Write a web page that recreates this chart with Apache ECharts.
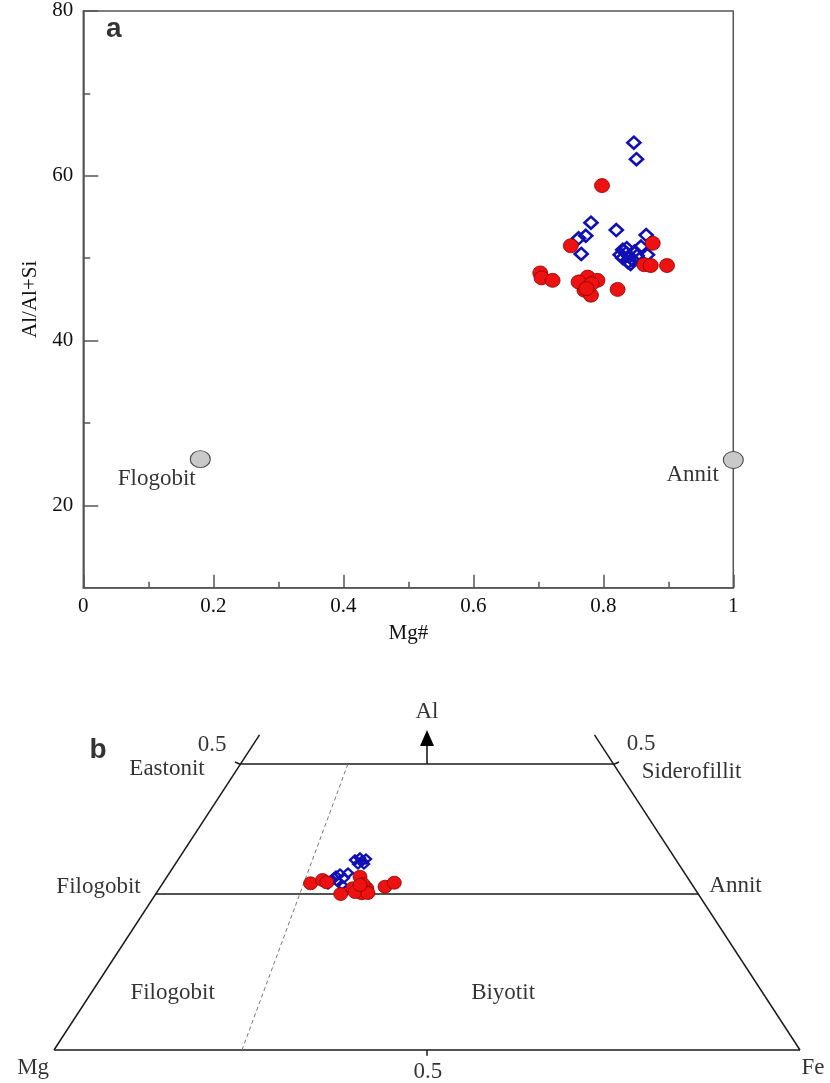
<!DOCTYPE html>
<html>
<head>
<meta charset="utf-8">
<script src="https://cdn.jsdelivr.net/npm/echarts@6/dist/echarts.min.js"></script>
<style>
html,body{margin:0;padding:0;background:#fff;}
#chart{width:830px;height:1083px;}
</style>
</head>
<body>
<div id="chart"></div>
<script>
// ---------- Panel a: Mg# vs Al/(Al+Si) ----------
var yTickValues = [20, 40, 60, 80];
var yMinorTickValues = [30, 50, 70];
var xAxisName = 'Mg#';
var yAxisName = 'Al/Al+Si';

var blueA = [
  [0.847, 64.0], [0.851, 62.0], [0.781, 54.3], [0.820, 53.4], [0.773, 52.7],
  [0.762, 52.4], [0.866, 52.8], [0.766, 50.5], [0.858, 51.4], [0.868, 50.4],
  [0.830, 51.0], [0.835, 50.6], [0.840, 50.2], [0.845, 49.8], [0.838, 49.5],
  [0.830, 50.0], [0.848, 50.8], [0.852, 50.3], [0.836, 51.2], [0.842, 49.3],
  [0.826, 50.4]
];
var redA = [
  [0.798, 58.8], [0.750, 51.5], [0.876, 51.8], [0.703, 48.2], [0.705, 47.6],
  [0.722, 47.3], [0.766, 47.1], [0.776, 47.7], [0.791, 47.3], [0.771, 46.1],
  [0.781, 45.5], [0.822, 46.2], [0.863, 49.2], [0.873, 49.1], [0.898, 49.1],
  [0.762, 47.1], [0.782, 46.9], [0.774, 46.3]
];
var endMembersA = [[0.18, 25.6], [1.0, 25.5]];
var labelsA = [
  {text: 'Flogobit', pos: [0.113, 23.2]},
  {text: 'Annit', pos: [0.9375, 23.7]}
];
var panelA = {text: 'a', pos: [0.047, 77.8]};

// ---------- Panel b: Mg–Fe–Al diagram ----------
var frameSegments = [
  [[0, 0], [1, 0]],
  [[0, 0], [0.2755, 0.551]],
  [[1, 0], [0.7245, 0.551]],
  [[0.136, 0.2727], [0.864, 0.2727]],
  [[0.25, 0.5], [0.75, 0.5]],
  [[0.5, 0], [0.5, -0.010]],
  [[0.2493, 0.4995], [0.2426, 0.5035]],
  [[0.7507, 0.4995], [0.7574, 0.5035]]
];
var dashedBoundary = [[0.252, 0], [0.394, 0.5]];
var alArrow = [[0.5, 0.5], [0.5, 0.5455]];

var blueB = [
  [0.3727, 0.2972], [0.3780, 0.3042], [0.3834, 0.3077], [0.3887, 0.3007],
  [0.3807, 0.2937], [0.3941, 0.3094], [0.3673, 0.2902], [0.3861, 0.2885],
  [0.3753, 0.3007], [0.4035, 0.3322], [0.4102, 0.3357], [0.4182, 0.3339],
  [0.4075, 0.3252], [0.4155, 0.3252], [0.4129, 0.3304]
];
var redB = [
  [0.344, 0.2914], [0.360, 0.2972], [0.3656, 0.2932], [0.3843, 0.2727],
  [0.4004, 0.2827], [0.4102, 0.3030], [0.4125, 0.2740], [0.4192, 0.2827],
  [0.4035, 0.2762], [0.4142, 0.2902], [0.4209, 0.2745], [0.4437, 0.2855],
  [0.4562, 0.2925], [0.4102, 0.2885]
];
var labelsB = [
  {text: '0.5', pos: [0.2118, 0.533]},
  {text: 'Eastonit', pos: [0.1515, 0.491]},
  {text: '0.5', pos: [0.787, 0.535]},
  {text: 'Siderofillit', pos: [0.8546, 0.4865]},
  {text: 'Filogobit', pos: [0.0597, 0.2855]},
  {text: 'Annit', pos: [0.9135, 0.2872]},
  {text: 'Al', pos: [0.5, 0.591]},
  {text: 'Filogobit', pos: [0.159, 0.100]},
  {text: 'Biyotit', pos: [0.602, 0.0997]},
  {text: 'Mg', pos: [-0.028, -0.0315]},
  {text: '0.5', pos: [0.5013, -0.038]},
  {text: 'Fe', pos: [1.0174, -0.0315]}
];
var panelB = {text: 'b', pos: [0.059, 0.5245]};

// ---------- styles ----------
var SERIF = '"Liberation Serif", "Times New Roman", serif';
var SANS = '"Liberation Sans", Arial, sans-serif';
var AXIS_COLOR = '#555';
var RED = '#ee1111', RED_BORDER = '#8a0000';
var BLUE = '#1010b4';

function labelSeries(items, xIdx, yIdx, font, size, weight) {
  return {
    type: 'scatter', xAxisIndex: xIdx, yAxisIndex: yIdx, symbolSize: 0, clip: false,
    silent: true, z: 10,
    data: items.map(function (d) {
      return {value: d.pos, label: {show: true, formatter: d.text}};
    }),
    label: {
      show: true, position: 'inside', align: 'center', verticalAlign: 'middle',
      fontFamily: font, fontSize: size, fontWeight: weight || 'normal', color: '#000'
    }
  };
}

var series = [];
// panel a points
series.push({
  type: 'scatter', xAxisIndex: 0, yAxisIndex: 0, data: blueA, symbol: 'diamond',
  symbolSize: [13, 12],
  itemStyle: {color: 'rgba(255,255,255,0)', borderColor: BLUE, borderWidth: 2.6, opacity: 1}, z: 3
});
series.push({
  type: 'scatter', xAxisIndex: 0, yAxisIndex: 0, data: redA, symbol: 'circle',
  symbolSize: [15, 14],
  itemStyle: {color: RED, borderColor: RED_BORDER, borderWidth: 0.8, opacity: 1}, z: 4
});
series.push({
  type: 'scatter', xAxisIndex: 0, yAxisIndex: 0, data: endMembersA, symbol: 'circle',
  symbolSize: [20, 17], clip: false,
  itemStyle: {color: '#c9c9c9', borderColor: '#444', borderWidth: 1, opacity: 1}, z: 5
});
series.push(labelSeries(labelsA, 0, 0, SERIF, 23));
series.push(labelSeries([panelA], 0, 0, SANS, 28, 'bold'));

// panel b frame
frameSegments.forEach(function (seg) {
  series.push({
    type: 'line', xAxisIndex: 1, yAxisIndex: 2, data: seg, symbol: 'none', clip: false,
    silent: true, lineStyle: {color: '#1a1a1a', width: 1.5}, z: 2
  });
});
series.push({
  type: 'line', xAxisIndex: 1, yAxisIndex: 2, data: dashedBoundary, symbol: 'none',
  clip: false, silent: true, lineStyle: {color: '#777', width: 1, type: [4, 3]}, z: 2
});
series.push({
  type: 'line', xAxisIndex: 1, yAxisIndex: 2, clip: false, silent: true,
  data: [
    {value: alArrow[0], symbol: 'none'},
    {value: alArrow[1], symbol: 'triangle', symbolSize: [14, 16]}
  ],
  showSymbol: true, showAllSymbol: true,
  lineStyle: {color: '#1a1a1a', width: 1.6},
  itemStyle: {color: '#000', opacity: 1}, z: 2
});
series.push({
  type: 'scatter', xAxisIndex: 1, yAxisIndex: 2, data: blueB, symbol: 'diamond',
  symbolSize: [10, 9],
  itemStyle: {color: 'rgba(255,255,255,0)', borderColor: BLUE, borderWidth: 2.4, opacity: 1}, z: 3
});
series.push({
  type: 'scatter', xAxisIndex: 1, yAxisIndex: 2, data: redB, symbol: 'circle',
  symbolSize: [14, 13],
  itemStyle: {color: RED, borderColor: RED_BORDER, borderWidth: 0.8, opacity: 1}, z: 4
});
series.push(labelSeries(labelsB, 1, 2, SERIF, 23));
series.push(labelSeries([panelB], 1, 2, SANS, 28, 'bold'));

var axisLineStyle = {color: AXIS_COLOR, width: 1.5};
var tickFont = {fontFamily: SERIF, fontSize: 21, color: '#111'};

var option = {
  animation: false,
  backgroundColor: '#fff',
  grid: [
    {left: 83.3, right: 96.7, top: 10.9, bottom: 495.3, show: true,
     borderColor: AXIS_COLOR, borderWidth: 1.5, backgroundColor: 'transparent'},
    {left: 54, right: 30, top: 706.8, bottom: 33}
  ],
  xAxis: [
    {
      gridIndex: 0, type: 'value', min: 0, max: 1, interval: 0.2, position: 'bottom',
      name: xAxisName, nameLocation: 'middle', nameGap: 35,
      nameTextStyle: {fontFamily: SERIF, fontSize: 21, color: '#111'},
      axisLine: {show: true, onZero: false, lineStyle: axisLineStyle},
      axisTick: {show: true, inside: true, length: 13, lineStyle: axisLineStyle},
      minorTick: {show: true, splitNumber: 2, length: 6, lineStyle: axisLineStyle},
      splitLine: {show: false}, minorSplitLine: {show: false},
      axisLabel: Object.assign({margin: 8}, tickFont)
    },
    {gridIndex: 1, type: 'value', min: 0, max: 1, show: false}
  ],
  yAxis: [
    {
      gridIndex: 0, type: 'value', min: 10, max: 80, position: 'left',
      name: yAxisName, nameLocation: 'middle', nameGap: 40, nameRotate: 90,
      nameTextStyle: {fontFamily: SERIF, fontSize: 21, color: '#111'},
      axisLine: {show: true, onZero: false, lineStyle: axisLineStyle},
      axisTick: {show: true, inside: true, length: 15, lineStyle: axisLineStyle,
                 customValues: yTickValues},
      axisLabel: Object.assign({margin: 10, customValues: yTickValues}, tickFont),
      splitLine: {show: false}
    },
    {
      gridIndex: 0, type: 'value', min: 10, max: 80, position: 'left', offset: 0,
      axisLine: {show: false, onZero: false},
      axisTick: {show: true, inside: true, length: 7, lineStyle: axisLineStyle,
                 customValues: yMinorTickValues},
      axisLabel: {show: false},
      splitLine: {show: false}
    },
    {gridIndex: 1, type: 'value', min: 0, max: 0.6, show: false}
  ],
  series: series
};

var chart = echarts.init(document.getElementById('chart'), null, {renderer: 'canvas'});
chart.setOption(option);
</script>
</body>
</html>
